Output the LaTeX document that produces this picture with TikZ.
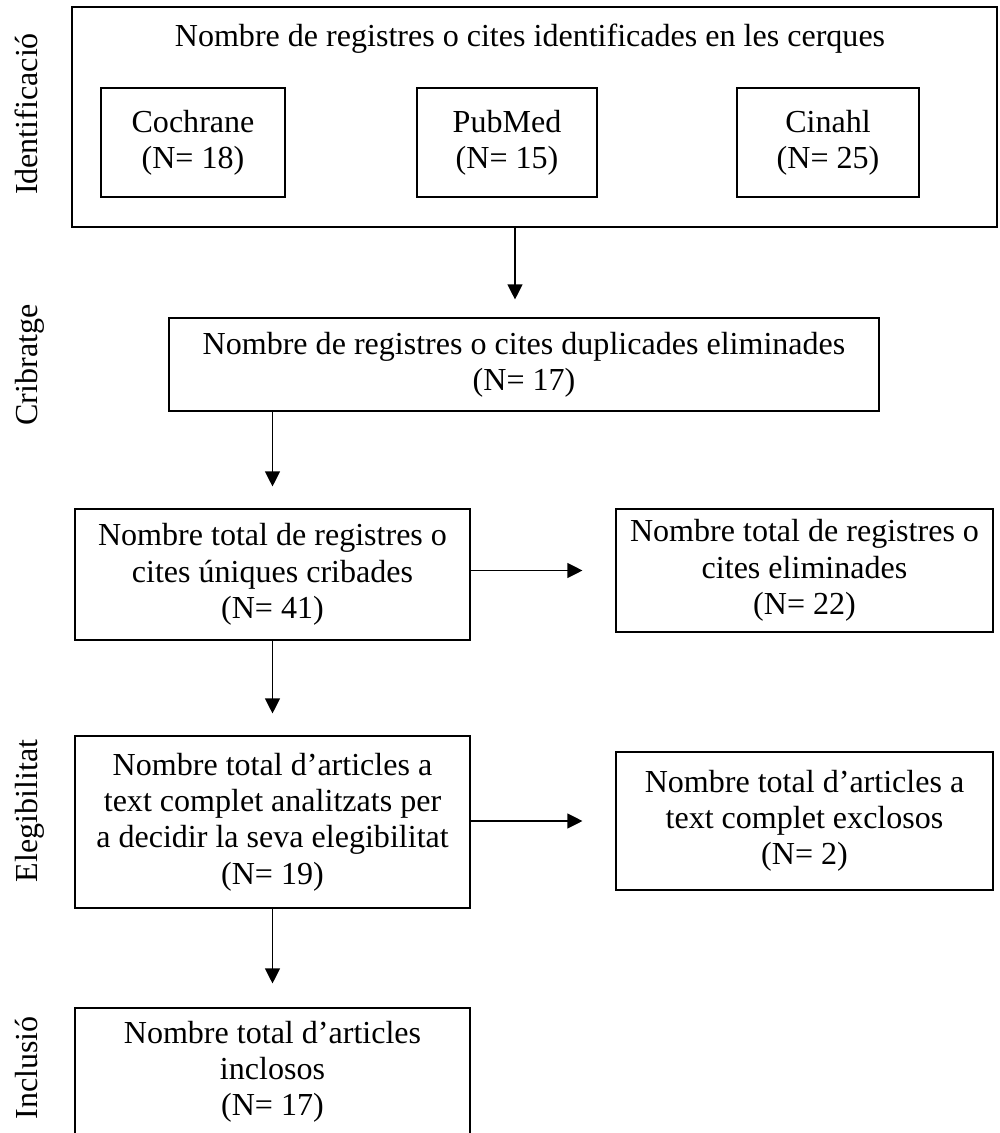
\documentclass[tikz,border=0pt]{standalone}
\usepackage{fontspec}
\setmainfont{Liberation Serif}
\usetikzlibrary{
    arrows.meta,
    positioning,
    calc
}

\begin{document}
\begin{tikzpicture}[
        font=\fontsize{22.8pt}{25.8pt}\selectfont,
        box/.style={draw, rectangle, line width=0.8pt, align=center, inner sep=0pt},
        sidelabel/.style={rotate=90, anchor=base, inner sep=0pt},
        arr/.style={-{Triangle[width=0.375cm, length=0.375cm]}, line width=0.8pt}
    ]
                \clip (0,0) rectangle (24.975,-28.325);

                % identification
                \node[box, minimum width=23.125cm, minimum height=5.5cm] (ident) at (13.3625,-2.925) {};
                \node[anchor=base, inner sep=0pt] (title) at (13.25,-1.175) {Nombre de registres o cites identificades en les cerques};
                \node[box, minimum width=4.6cm, minimum height=2.725cm] (cochrane) at (4.825,-3.5625) {Cochrane\\(N= 18)};
                \node[box, minimum width=4.5cm, minimum height=2.725cm] (pubmed) at (12.675,-3.5625) {PubMed\\(N= 15)};
                \node[box, minimum width=4.55cm, minimum height=2.725cm] (cinahl) at (20.7,-3.5625) {Cinahl\\(N= 25)};
                \coordinate (a1) at (12.875,0);

                % screening
                \node[box, minimum width=17.75cm, minimum height=2.325cm] (dup) at (13.1,-9.1125) {Nombre de registres o cites duplicades eliminades\\(N= 17)};
                \node[box, minimum width=9.875cm, minimum height=3.275cm] (screen) at (6.8125,-14.3625) {Nombre total de registres o\\cites úniques cribades\\(N= 41)};
                \node[box, minimum width=9.425cm, minimum height=3.075cm] (excl1) at (20.1125,-14.2625) {Nombre total de registres o\\cites eliminades\\(N= 22)};

                % eligibility
                \node[box, minimum width=9.875cm, minimum height=4.3cm] (elig) at (6.8125,-20.55) {Nombre total d’articles a\\text complet analitzats per\\a decidir la seva elegibilitat\\(N= 19)};
                \node[box, minimum width=9.425cm, minimum height=3.45cm] (excl2) at (20.1125,-20.525) {Nombre total d’articles a\\text complet exclosos\\(N= 2)};

                % inclusion
                \node[box, minimum width=9.875cm, minimum height=3.2cm] (incl) at (6.8125,-26.8) {Nombre total d’articles\\inclosos\\(N= 17)};

                % side labels
                \node[sidelabel] (lident) at (0.925,-2.85) {Identificació};
                \node[sidelabel] (lscreen) at (0.925,-9.125) {Cribratge};
                \node[sidelabel] (lelig) at (0.925,-20.275) {Elegibilitat};
                \node[sidelabel] (lincl) at (0.925,-26.7) {Inclusió};

                \draw[arr, shorten >=0.45cm] (ident.south -| a1) -- (dup.north -| a1);
                \draw[arr, shorten >=0.55cm] (dup.south -| screen.north) -- (screen.north);
                \draw[arr, shorten >=0.55cm] (screen.south) -- (elig.north);
                \draw[arr, shorten >=0.6cm] (elig.south) -- (incl.north);
                \draw[arr, shorten >=0.825cm] (screen.east |- excl1.west) -- (excl1.west);
                \draw[arr, shorten >=0.825cm] (elig.east |- excl2.west) -- (excl2.west);
            \end{tikzpicture}
\end{document}
